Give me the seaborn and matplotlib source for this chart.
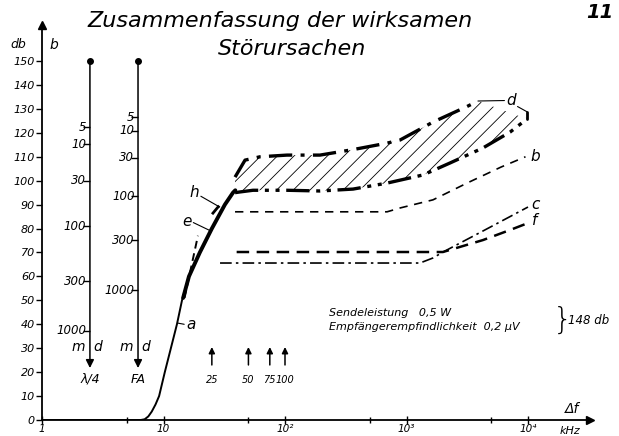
import numpy as np
import matplotlib
matplotlib.use('Agg')
import matplotlib.pyplot as plt
import seaborn as sns

# curve a (kHz, db)
a_f = [1, 3, 6.5, 7.0, 7.5, 8.0, 8.6, 9.2, 10.25, 11.5, 12.9, 14.2, 16.2, 19.9, 25, 32, 37.3]
a_db = [0, 0, 0, 0.3, 1.5, 3.5, 6.5, 10, 20, 30, 40, 50, 60, 70, 80, 90, 95]
a_heavy_f = [14.5, 16.2, 19.9, 25, 32, 37.3, 39]
a_heavy_db = [51, 60, 70, 80, 90, 95, 96]
# curve e (dashed) and h (short)
e_f = [14.9, 19.2]
e_db = [51, 77]
h_f = [25.1, 30.3]
h_db = [86, 91]
# d band: upper and lower limit
d_up_f = [38.8, 46.9, 62.3, 104, 194, 363, 692, 885, 1652, 3148, 3873]
d_up_db = [101.5, 108.6, 110, 110.7, 110.7, 113, 115.7, 117, 124.5, 131, 133.3]
d_lo_f = [38.8, 42.6, 54.5, 104, 194, 363, 692, 1368, 2280, 4263, 7112, 9814]
d_lo_db = [95, 95.3, 96, 96, 95.7, 96.5, 99, 102.4, 107.4, 113.7, 120.3, 125.8]
# curves b, c, f
b_f = [38.8, 104, 363, 692, 885, 1652, 3148, 6000, 9535]
b_db = [87, 87, 87, 87, 88.6, 92, 99, 105.7, 110]
c_f = [29.2, 104, 500, 1291, 1650, 2000, 4263, 7112, 10000]
c_db = [65.6, 65.6, 65.6, 65.6, 67.7, 70.2, 79, 85, 89]
f_f = [40, 104, 500, 1995, 4263, 7112, 10000]
f_db = [70.2, 70.2, 70.2, 70.2, 75.2, 79.4, 82.3]

# side scales (position in kHz, value ticks in m, db position)
lam_pos = 2.48
lam_ticks = ['5', '10', '30', '100', '300', '1000']
lam_db = [122.4, 115.3, 99.9, 81, 58, 37.2]
fa_pos = 6.17
fa_ticks = ['5', '10', '30', '100', '300', '1000']
fa_db = [126.6, 120.8, 109.5, 93.6, 75.2, 54.3]

mark_f = [25, 50, 75, 100]
mark_labels = ['25', '50', '75', '100']

yticks = list(range(0, 151, 10))
xticks = [1, 10, 100, 1000, 10000]
xlabels = ['1', '10', '10²', '10³', '10⁴']

sns.set_style('ticks')
plt.rcParams['font.family'] = ['DejaVu Sans']
plt.rcParams['hatch.linewidth'] = 0.6
plt.rcParams['text.color'] = 'black'
plt.rcParams['xtick.color'] = 'black'
plt.rcParams['ytick.color'] = 'black'
plt.rcParams['axes.edgecolor'] = 'black'
it = dict(style='italic')

fig = plt.figure(figsize=(6.19, 4.36), dpi=100)
ax = fig.add_axes([42 / 619, 16 / 436, 548 / 619, 395 / 436])
ax.set_xscale('log')
ax.set_xlim(1, 10 ** (548 / 121.5))
ax.set_ylim(0, 395 / 2.393)

# hatched band between d curves
grid = np.logspace(np.log10(38.8), np.log10(3873), 200)
up = np.interp(np.log10(grid), np.log10(d_up_f), d_up_db)
lo = np.interp(np.log10(grid), np.log10(d_lo_f), d_lo_db)
ax.fill_between(grid, lo, up, facecolor='none', edgecolor='black', hatch='//', linewidth=0)
grid2 = np.logspace(np.log10(3873), np.log10(9814), 60)
lo2 = np.interp(np.log10(grid2), np.log10(d_lo_f), d_lo_db)
up2 = np.interp(np.log10(grid2), [np.log10(d_up_f[-1]), np.log10(d_lo_f[-1])], [d_up_db[-1], d_lo_db[-1]])
ax.fill_between(grid2, lo2, up2, facecolor='none', edgecolor='black', hatch='//', linewidth=0)

k = 'black'
sns.lineplot(x=a_f, y=a_db, ax=ax, color=k, lw=1.4, sort=False)
sns.lineplot(x=e_f, y=e_db, ax=ax, color=k, lw=1.4, sort=False)
ax.lines[-1].set_dashes((4, 2.5))
sns.lineplot(x=a_heavy_f, y=a_heavy_db, ax=ax, color=k, lw=2.8, sort=False)
sns.lineplot(x=h_f, y=h_db, ax=ax, color=k, lw=2, sort=False)
ax.lines[-1].set_dashes((4, 3))
sns.lineplot(x=d_up_f, y=d_up_db, ax=ax, color=k, lw=2.4, sort=False)
ax.lines[-1].set_dashes((7, 2.5, 1.2, 2.5))
sns.lineplot(x=d_lo_f, y=d_lo_db, ax=ax, color=k, lw=2.4, sort=False)
ax.lines[-1].set_dashes((7, 2, 1.2, 2, 1.2, 2))
sns.lineplot(x=b_f, y=b_db, ax=ax, color=k, lw=1.2, sort=False)
ax.lines[-1].set_dashes((5, 4))
sns.lineplot(x=c_f, y=c_db, ax=ax, color=k, lw=1.2, sort=False)
ax.lines[-1].set_dashes((7, 2.5, 1.5, 2.5))
sns.lineplot(x=f_f, y=f_db, ax=ax, color=k, lw=1.8, sort=False)
ax.lines[-1].set_dashes((5, 3))

# d end tick and label
ax.plot([d_lo_f[-1], d_lo_f[-1]], [d_lo_db[-1], d_lo_db[-1] + 3], color=k, lw=2)
ax.text(6600, 133.5, 'd', fontsize=11, ha='left', va='center', **it)
ax.plot([d_up_f[-1], 6400], [d_up_db[-1], 133.5], color=k, lw=0.8)
ax.plot([8200, d_lo_f[-1]], [131, d_lo_db[-1] + 3], color=k, lw=0.8)

# curve labels
ax.text(10500, 110, 'b', fontsize=11, ha='left', va='center', **it)
ax.text(10600, 90, 'c', fontsize=11, ha='left', va='center', **it)
ax.text(10800, 83.5, 'f', fontsize=11, ha='left', va='center', **it)
ax.text(15.3, 40, 'a', fontsize=11, ha='left', va='center', **it)
ax.plot([13.1, 14.8], [40.5, 40], color=k, lw=0.8)
ax.text(17.2, 83, 'e', fontsize=11, ha='right', va='center', **it)
ax.plot([17.6, 24.5], [82.5, 79], color=k, lw=0.8)
ax.text(19.5, 95, 'h', fontsize=11, ha='right', va='center', **it)
ax.plot([20.3, 29], [93.5, 89], color=k, lw=0.8)

# side scales
for pos, labs, dbs, name in [(lam_pos, lam_ticks, lam_db, 'λ/4'), (fa_pos, fa_ticks, fa_db, 'FA')]:
    ax.annotate('', xy=(pos, 21.7), xytext=(pos, 150),
                arrowprops=dict(arrowstyle='-|>', color=k, lw=1.1, mutation_scale=12, shrinkA=0, shrinkB=0))
    ax.plot([pos], [150], 'o', color=k, ms=4)
    ax.plot([pos] * len(dbs), dbs, lw=0, marker=0, color=k, ms=5, mew=1)
    for lab, d in zip(labs, dbs):
        ax.text(pos / 1.07, d, lab, fontsize=8.5, ha='right', va='center', **it)
    ax.text(pos / 1.09, 30.3, 'm', fontsize=10, ha='right', va='center', **it)
    ax.text(pos * 1.07, 30.3, 'd', fontsize=10, ha='left', va='center', **it)
    ax.text(pos, 17, name, fontsize=9, ha='center', va='center', **it)

for fm, lab in zip(mark_f, mark_labels):
    ax.annotate('', xy=(fm, 30.5), xytext=(fm, 23),
                arrowprops=dict(arrowstyle='-|>', color=k, lw=1.1, mutation_scale=9, shrinkA=0, shrinkB=0))
    ax.text(fm, 16.7, lab, fontsize=7, ha='center', va='center', **it)

# transmitter note
ax.text(230, 44.7, 'Sendeleistung   0,5 W', fontsize=8, ha='left', va='center', **it)
ax.text(230, 38.9, 'Empfängerempfindlichkeit  0,2 μV', fontsize=8, ha='left', va='center', **it)
ax.text(16000, 41.8, '}', fontsize=22, ha='left', va='center', fontweight='light')
ax.text(21500, 41.4, '148 db', fontsize=8.5, ha='left', va='center', **it)

# axes with arrows
sns.despine(ax=ax)
ax.spines['left'].set_linewidth(1.3)
ax.spines['bottom'].set_linewidth(1.3)
ax.plot(0, 1, '^k', ms=6, transform=ax.transAxes, clip_on=False)
ax.plot(1, 0, '>k', ms=6, transform=ax.transAxes, clip_on=False)

ax.set_yticks(yticks)
ax.set_yticklabels([str(t) for t in yticks], fontsize=8, **it)
ax.set_xticks(xticks)
ax.set_xticklabels(xlabels, fontsize=7.5, **it)
ax.set_xticks([5, 50, 500, 5000], minor=True)
ax.tick_params(axis='x', which='both', direction='inout', length=6, width=1, pad=0)
ax.tick_params(axis='y', direction='out', length=4, width=1, pad=1)
ax.tick_params(axis='x', which='minor', length=4)
ax.text(20000, 4.8, 'Δf', fontsize=10, ha='left', va='center', **it)
fig.text(570 / 619, 1 - 431 / 436, 'kHz', fontsize=8, ha='center', va='center', **it)

fig.text(18 / 619, 1 - 45 / 436, 'db', fontsize=9, ha='center', va='center', **it)
fig.text(54 / 619, 1 - 45 / 436, 'b', fontsize=10, ha='center', va='center', **it)
fig.text(280 / 619, 1 - 21 / 436, 'Zusammenfassung der wirksamen', fontsize=16, ha='center', va='center', **it)
fig.text(292 / 619, 1 - 49 / 436, 'Störursachen', fontsize=16, ha='center', va='center', **it)
fig.text(600 / 619, 1 - 12 / 436, '11', fontsize=14, ha='center', va='center', fontweight='bold', **it)

fig.savefig('out.png', dpi=100)
